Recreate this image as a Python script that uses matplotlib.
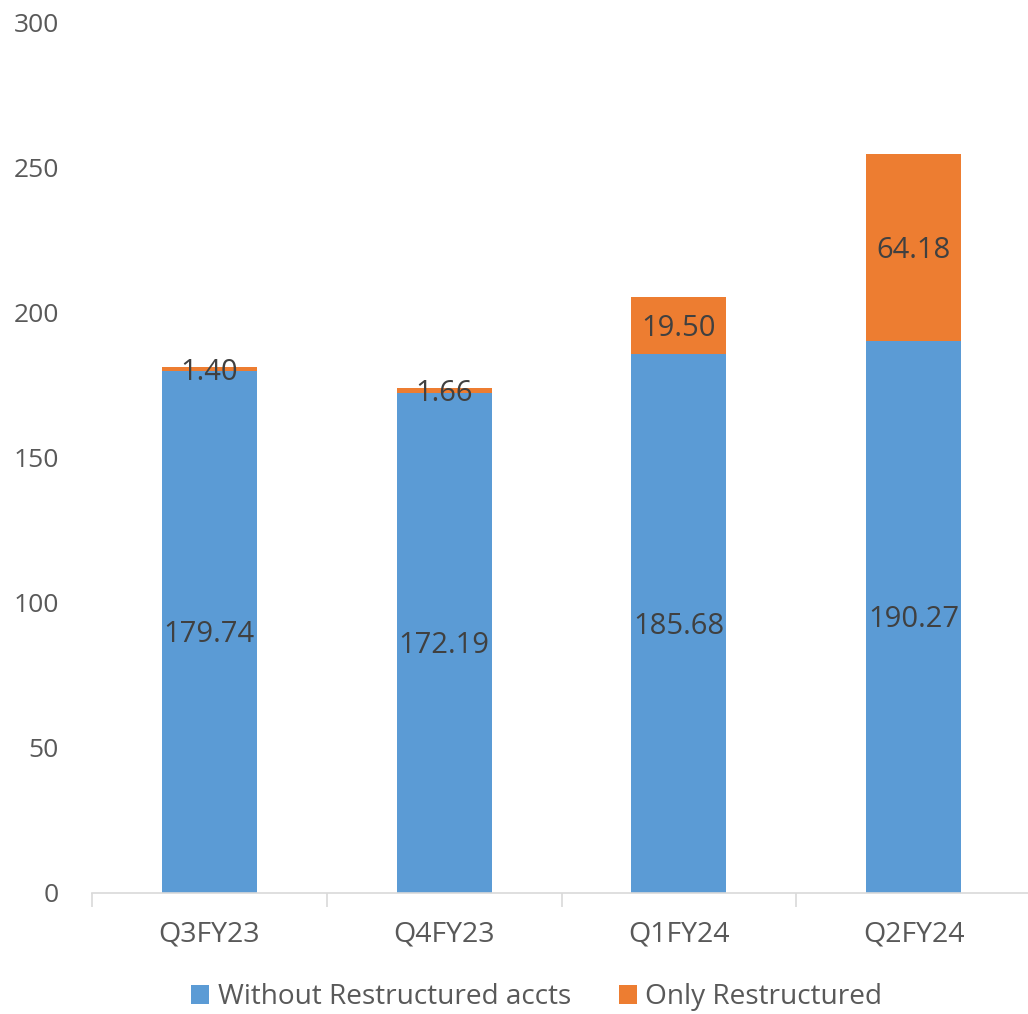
import matplotlib.pyplot as plt
import numpy as np

categories = ["Q3FY23", "Q4FY23", "Q1FY24", "Q2FY24"]
without_restructured = [179.74, 172.19, 185.68, 190.27]
only_restructured = [1.40, 1.66, 19.50, 64.18]
yticks = [0, 50, 100, 150, 200, 250, 300]

blue = "#5B9BD5"
orange = "#ED7D31"
text_col = "#404040"
tick_col = "#595959"

plt.rcParams["font.family"] = ["Open Sans", "DejaVu Sans"]

fig = plt.figure(figsize=(10.28, 10.14), dpi=100)
ax = fig.add_axes([92 / 1028, 121 / 1014, 939 / 1028, 871 / 1014])

x = np.arange(len(categories))
width = 0.405
b1 = ax.bar(x, without_restructured, width, color=blue, label="Without Restructured accts")
b2 = ax.bar(x, only_restructured, width, bottom=without_restructured, color=orange,
            label="Only Restructured")

# data labels, centred in each segment
for rect, val in zip(b1, without_restructured):
    ax.text(rect.get_x() + rect.get_width() / 2, val / 2 - 1, f"{val:.2f}",
            ha="center", va="center", fontsize=21, color=text_col)
for rect, base, val in zip(b2, without_restructured, only_restructured):
    ax.text(rect.get_x() + rect.get_width() / 2, base + val / 2 - 1, f"{val:.2f}",
            ha="center", va="center", fontsize=21, color=text_col)

ax.set_xlim(-0.5, 3.5)
ax.set_ylim(0, 300)
ax.set_yticks(yticks)
ax.set_xticks(x)
ax.set_xticklabels(categories)
ax.set_xticks(np.arange(-0.5, 4, 1), minor=True)
ax.tick_params(axis="x", which="major", length=0, pad=20, labelsize=20.5, labelcolor=tick_col)
ax.tick_params(axis="x", which="minor", length=10, width=1.2, color="#D9D9D9", direction="out")
ax.tick_params(axis="y", length=0, pad=24, labelsize=19, labelcolor=tick_col)

for s in ["top", "right", "left"]:
    ax.spines[s].set_visible(False)
ax.spines["bottom"].set_color("#D9D9D9")
ax.spines["bottom"].set_linewidth(1.2)

fig.legend(loc="lower center", bbox_to_anchor=(0.522, -0.022), ncol=2, frameon=False,
           fontsize=20.2, labelcolor=tick_col, handlelength=0.65, handleheight=0.65,
           handletextpad=0.3, columnspacing=1.7)

fig.savefig("out.png", dpi=100)
